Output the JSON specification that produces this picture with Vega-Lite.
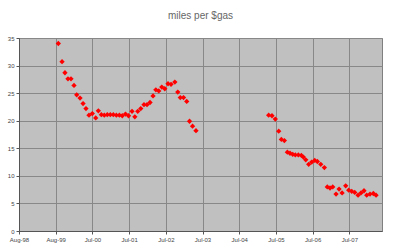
{
  "$schema": "https://vega.github.io/schema/vega-lite/v6.json",
  "width": 363,
  "height": 193,
  "autosize": "none",
  "padding": {"left": 19, "top": 38, "right": 18, "bottom": 20},
  "background": "white",
  "title": {"text": "miles per $gas", "fontSize": 10, "font": "Liberation Sans", "fontWeight": "normal", "color": "#666666", "anchor": "middle", "offset": 14},
  "config": {
    "view": {"fill": "#c0c0c0", "stroke": "#808080", "strokeWidth": 1},
    "axis": {"labelFont": "Liberation Sans", "labelFontSize": 6, "labelColor": "#444444", "gridColor": "#888888", "gridWidth": 1, "gridOpacity": 1, "domainColor": "#555555", "tickColor": "#555555", "tickSize": 3, "title": null}
  },
  "data": {"values": [
    {"date": "1999-08-27", "mpg": 34.0},
    {"date": "1999-10-03", "mpg": 30.7},
    {"date": "1999-11-01", "mpg": 28.7},
    {"date": "1999-12-01", "mpg": 27.6},
    {"date": "1999-12-31", "mpg": 27.6},
    {"date": "2000-01-30", "mpg": 26.4},
    {"date": "2000-02-26", "mpg": 24.7},
    {"date": "2000-03-30", "mpg": 24.1},
    {"date": "2000-04-29", "mpg": 23.1},
    {"date": "2000-05-28", "mpg": 22.2},
    {"date": "2000-06-27", "mpg": 21.0},
    {"date": "2000-07-30", "mpg": 21.3},
    {"date": "2000-09-02", "mpg": 20.5},
    {"date": "2000-09-28", "mpg": 21.8},
    {"date": "2000-10-28", "mpg": 21.1},
    {"date": "2000-11-26", "mpg": 21.0},
    {"date": "2000-12-26", "mpg": 21.1},
    {"date": "2001-01-25", "mpg": 21.1},
    {"date": "2001-02-24", "mpg": 21.1},
    {"date": "2001-03-26", "mpg": 21.0},
    {"date": "2001-04-25", "mpg": 21.0},
    {"date": "2001-05-24", "mpg": 20.9},
    {"date": "2001-06-25", "mpg": 21.2},
    {"date": "2001-07-25", "mpg": 20.9},
    {"date": "2001-08-29", "mpg": 21.7},
    {"date": "2001-09-26", "mpg": 20.7},
    {"date": "2001-10-25", "mpg": 21.7},
    {"date": "2001-11-24", "mpg": 22.2},
    {"date": "2001-12-26", "mpg": 22.9},
    {"date": "2002-01-25", "mpg": 22.9},
    {"date": "2002-02-24", "mpg": 23.3},
    {"date": "2002-03-26", "mpg": 24.5},
    {"date": "2002-04-23", "mpg": 25.6},
    {"date": "2002-05-22", "mpg": 25.4},
    {"date": "2002-06-21", "mpg": 26.1},
    {"date": "2002-07-21", "mpg": 25.8},
    {"date": "2002-08-22", "mpg": 26.7},
    {"date": "2002-09-21", "mpg": 26.6},
    {"date": "2002-10-29", "mpg": 27.0},
    {"date": "2002-11-27", "mpg": 25.2},
    {"date": "2002-12-22", "mpg": 24.2},
    {"date": "2003-01-23", "mpg": 24.2},
    {"date": "2003-02-24", "mpg": 23.5},
    {"date": "2003-03-24", "mpg": 19.9},
    {"date": "2003-04-23", "mpg": 19.0},
    {"date": "2003-05-27", "mpg": 18.2},
    {"date": "2005-05-19", "mpg": 21.0},
    {"date": "2005-06-21", "mpg": 20.9},
    {"date": "2005-07-24", "mpg": 20.3},
    {"date": "2005-08-27", "mpg": 18.1},
    {"date": "2005-09-22", "mpg": 16.6},
    {"date": "2005-10-22", "mpg": 16.4},
    {"date": "2005-11-21", "mpg": 14.3},
    {"date": "2005-12-17", "mpg": 14.1},
    {"date": "2006-01-13", "mpg": 13.9},
    {"date": "2006-02-08", "mpg": 13.8},
    {"date": "2006-03-10", "mpg": 13.8},
    {"date": "2006-04-09", "mpg": 13.7},
    {"date": "2006-04-29", "mpg": 13.4},
    {"date": "2006-05-23", "mpg": 12.9},
    {"date": "2006-06-21", "mpg": 12.1},
    {"date": "2006-07-21", "mpg": 12.5},
    {"date": "2006-08-20", "mpg": 12.8},
    {"date": "2006-09-15", "mpg": 12.6},
    {"date": "2006-10-19", "mpg": 12.1},
    {"date": "2006-11-24", "mpg": 11.5},
    {"date": "2006-12-23", "mpg": 8.0},
    {"date": "2007-01-19", "mpg": 7.8},
    {"date": "2007-02-15", "mpg": 8.0},
    {"date": "2007-03-20", "mpg": 6.7},
    {"date": "2007-04-19", "mpg": 7.6},
    {"date": "2007-05-19", "mpg": 6.9},
    {"date": "2007-06-24", "mpg": 8.2},
    {"date": "2007-07-24", "mpg": 7.4},
    {"date": "2007-08-23", "mpg": 7.2},
    {"date": "2007-09-22", "mpg": 7.0},
    {"date": "2007-10-25", "mpg": 6.5},
    {"date": "2007-11-23", "mpg": 6.9},
    {"date": "2007-12-23", "mpg": 7.3},
    {"date": "2008-01-19", "mpg": 6.5},
    {"date": "2008-02-21", "mpg": 6.7},
    {"date": "2008-03-25", "mpg": 6.8},
    {"date": "2008-04-21", "mpg": 6.5}
  ]},
  "mark": {"type": "point", "shape": "diamond", "filled": true, "size": 28, "color": "#ff0000", "opacity": 1},
  "encoding": {
    "x": {
      "field": "date", "type": "temporal",
      "scale": {"type": "utc", "domain": [{"year": 1998, "month": 8, "date": 1, "utc": true}, {"year": 2008, "month": 6, "date": 19, "utc": true}]},
      "axis": {
        "values": [
          {"year": 1998, "month": 8, "date": 1, "utc": true},
          {"year": 1999, "month": 8, "date": 1, "utc": true},
          {"year": 2000, "month": 7, "date": 31, "utc": true},
          {"year": 2001, "month": 7, "date": 31, "utc": true},
          {"year": 2002, "month": 7, "date": 31, "utc": true},
          {"year": 2003, "month": 7, "date": 31, "utc": true},
          {"year": 2004, "month": 7, "date": 30, "utc": true},
          {"year": 2005, "month": 7, "date": 30, "utc": true},
          {"year": 2006, "month": 7, "date": 30, "utc": true},
          {"year": 2007, "month": 7, "date": 30, "utc": true}
        ],
        "labelExpr": "utcFormat(datum.value, '%b-%y')", "grid": true, "labelPadding": 2, "labelFlush": false, "labelOverlap": false
      }
    },
    "y": {
      "field": "mpg", "type": "quantitative",
      "scale": {"domain": [0, 35], "nice": false, "zero": true},
      "axis": {"values": [0, 5, 10, 15, 20, 25, 30, 35], "grid": true, "labelPadding": 2}
    }
  }
}
